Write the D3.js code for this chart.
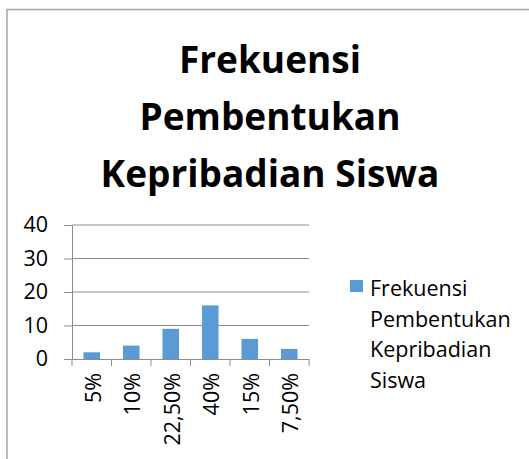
<!DOCTYPE html>
<html>
<head>
<meta charset="utf-8">
<script src="https://cdn.jsdelivr.net/npm/d3@7"></script>
<style>
  body { margin: 0; background: #fff; }
  svg { display: block; font-family: "Open Sans", sans-serif; }
</style>
</head>
<body>
<svg id="chart" width="529" height="459"></svg>
<script>
const categories = ['5%', '10%', '22,50%', '40%', '15%', '7,50%'];
const values = [2, 4, 9, 16, 6, 3];
const yTicks = [0, 10, 20, 30, 40];
const titleLines = ['Frekuensi', 'Pembentukan', 'Kepribadian Siswa'];
const legendLines = ['Frekuensi', 'Pembentukan', 'Kepribadian', 'Siswa'];

const svg = d3.select('#chart');
const barColor = '#5b9bd5';
const axisColor = '#8c8c8c';
const fs = 21.5;

// outer frame of the chart
svg.append('rect')
  .attr('x', 7).attr('y', 9.5)
  .attr('width', 540).attr('height', 470)
  .attr('fill', 'none')
  .attr('stroke', '#a6a6a6')
  .attr('stroke-width', 1.5);

// title
let title = svg.append('text')
  .attr('text-anchor', 'middle')
  .attr('font-weight', 'bold')
  .attr('font-size', 37)
  .attr('fill', '#000');
titleLines.forEach((t, i) => {
  title.append('tspan')
    .attr('x', 270)
    .attr('y', 73 + i * 57)
    .text(t);
});

const margin = { left: 72, right: 309, top: 225, bottom: 359 };

let x = d3.scaleBand()
  .domain(categories)
  .range([margin.left, margin.right])
  .paddingInner(0.58)
  .paddingOuter(0.29);

let xOuter = d3.scaleBand()
  .domain(categories)
  .range([margin.left, margin.right]);

let y = d3.scaleLinear()
  .domain([0, 40])
  .range([margin.bottom, margin.top]);

// gridlines
svg.append('g')
  .selectAll('line')
  .data(yTicks.filter(d => d > 0))
  .join('line')
  .attr('x1', margin.left).attr('x2', margin.right)
  .attr('y1', d => y(d)).attr('y2', d => y(d))
  .attr('stroke', axisColor)
  .attr('stroke-width', 1);

// y axis
let yAxis = svg.append('g')
  .attr('transform', `translate(${margin.left},0)`)
  .call(d3.axisLeft(y).tickValues(yTicks).tickSizeInner(8).tickSizeOuter(0).tickPadding(16));
yAxis.select('.domain').attr('stroke', axisColor);
yAxis.selectAll('.tick line').attr('stroke', axisColor);
yAxis.selectAll('text')
  .attr('font-size', fs)
  .attr('font-family', '"Open Sans", sans-serif')
  .attr('fill', '#000');

// bars
svg.append('g')
  .selectAll('rect')
  .data(values)
  .join('rect')
  .attr('x', (d, i) => x(categories[i]))
  .attr('y', d => y(d))
  .attr('width', x.bandwidth())
  .attr('height', d => y(0) - y(d))
  .attr('fill', barColor);

// x axis
let xAxis = svg.append('g')
  .attr('transform', `translate(0,${margin.bottom})`)
  .call(d3.axisBottom(xOuter).tickSize(0).tickFormat(''));
xAxis.select('.domain').attr('stroke', axisColor);

// tick marks between categories
svg.append('g')
  .selectAll('line')
  .data(d3.range(categories.length + 1))
  .join('line')
  .attr('x1', i => margin.left + i * xOuter.step())
  .attr('x2', i => margin.left + i * xOuter.step())
  .attr('y1', margin.bottom).attr('y2', margin.bottom + 7)
  .attr('stroke', axisColor);

// rotated category labels
svg.append('g')
  .selectAll('text')
  .data(categories)
  .join('text')
  .attr('transform', d => `translate(${x(d) + x.bandwidth() / 2 + 1.5},${margin.bottom + 14}) rotate(-90)`)
  .attr('text-anchor', 'end')
  .attr('dy', '0.35em')
  .attr('font-size', fs)
  .attr('fill', '#000')
  .text(d => d);

// legend
svg.append('rect')
  .attr('x', 350).attr('y', 280)
  .attr('width', 13).attr('height', 12)
  .attr('fill', barColor);

let legend = svg.append('text')
  .attr('font-size', fs)
  .attr('fill', '#000');
legendLines.forEach((t, i) => {
  legend.append('tspan')
    .attr('x', 370)
    .attr('y', 296 + i * 30.5)
    .text(t);
});
</script>
</body>
</html>
